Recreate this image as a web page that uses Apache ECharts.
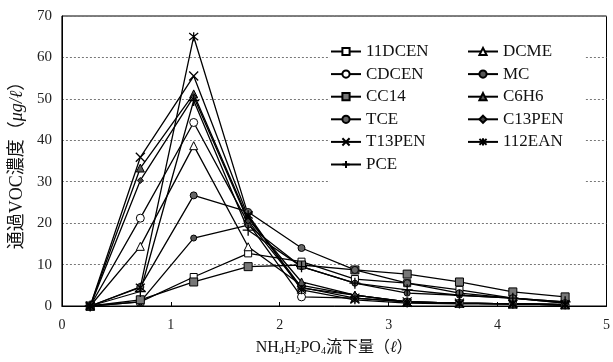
<!DOCTYPE html>
<html><head><meta charset="utf-8">
<script src="https://cdn.jsdelivr.net/npm/echarts@6/dist/echarts.min.js"></script>
<style>html,body{margin:0;padding:0;background:#fff}#c{width:613px;height:362px}</style>
</head><body><div id="c"></div>
<script>
const xVals = [0.26, 0.72, 1.21, 1.71, 2.20, 2.69, 3.17, 3.65, 4.14, 4.62];
const s11DCEN = [0, 1.0, 7.0, 12.7, 10.7, 6.5, 5.5, 3.9, 1.9, 0.7];
const sDCME   = [0, 14.4, 38.7, 14.3, 5.0, 2.6, 1.0, 0.7, 0.5, 0.3];
const sCDCEN  = [0, 21.2, 44.3, 20.0, 2.2, 1.9, 1.0, 0.7, 0.5, 0.3];
const sMC     = [0, 1.0, 16.4, 19.5, 9.5, 5.5, 3.1, 2.6, 1.9, 1.0];
const sCC14   = [0, 1.5, 5.8, 9.5, 9.9, 8.7, 7.7, 5.8, 3.4, 2.2];
const sC6H6   = [0, 33.3, 51.2, 21.0, 5.8, 2.6, 1.0, 0.7, 0.5, 0.3];
const sTCE    = [0, 4.6, 26.7, 22.7, 14.0, 8.7, 5.5, 3.1, 1.9, 0.7];
const sC13PEN = [0, 30.3, 50.5, 20.5, 4.3, 2.6, 1.0, 0.7, 0.5, 0.3];
const sT13PEN = [0, 35.9, 55.5, 21.5, 4.5, 1.9, 1.0, 0.7, 0.5, 0.3];
const s112EAN = [0, 4.5, 65.0, 22.0, 3.9, 1.5, 0.7, 0.5, 0.5, 0.3];
const sPCE    = [0, 3.5, 49.6, 18.3, 9.5, 5.5, 3.9, 2.6, 1.9, 1.0];
const yTicks = [0, 10, 20, 30, 40, 50, 60, 70];
const xTicks = [0, 1, 2, 3, 4, 5];

const CROSS = 'path://M0,0L10,10M10,0L0,10';
const PLUS = 'path://M5,0L5,10M0,5L10,5';
const STAR = 'path://M1,1L9,9M9,1L1,9M5,0L5,10';

function mk(name, vals, symbol, fill, size, strokeOnly) {
  return {
    name: name, type: 'line', data: xVals.map((x, i) => [x, vals[i]]),
    symbol: symbol, symbolSize: size, showSymbol: true,
    lineStyle: { color: '#000', width: 1.3 },
    itemStyle: strokeOnly ? { color: 'rgba(0,0,0,0)', borderColor: '#000', borderWidth: 1.3 }
                          : { color: fill, borderColor: '#000', borderWidth: 1 },
    emphasis: { disabled: true }, animation: false, z: 3
  };
}
const series = [
  mk('11DCEN', s11DCEN, 'rect', '#fff', 7),
  mk('DCME', sDCME, 'triangle', '#fff', 8),
  mk('CDCEN', sCDCEN, 'circle', '#fff', 8),
  mk('MC', sMC, 'circle', '#555', 6),
  mk('CC14', sCC14, 'rect', '#777', 8),
  mk('C6H6', sC6H6, 'triangle', '#555', 8),
  mk('TCE', sTCE, 'circle', '#666', 7),
  mk('C13PEN', sC13PEN, 'diamond', '#444', 6),
  mk('T13PEN', sT13PEN, CROSS, '#000', 9, true),
  mk('112EAN', s112EAN, STAR, '#000', 9, true),
  mk('PCE', sPCE, PLUS, '#000', 11, true)
];
const legendText = { fontFamily: 'Liberation Serif', fontSize: 17, color: '#111' };
const chart = echarts.init(document.getElementById('c'), null, { renderer: 'canvas' });
chart.setOption({
  animation: false,
  backgroundColor: '#fff',
  grid: { left: 60, right: 2, top: 16, bottom: 56, show: true, borderColor: '#000', borderWidth: 1, backgroundColor: 'transparent' },
  graphic: [{ type: 'rect', shape: { x: 330, y: 36, width: 255, height: 148 }, style: { fill: '#fff' }, z: 1, silent: true }],
  legend: [
    { data: ['11DCEN', 'CDCEN', 'CC14', 'TCE', 'T13PEN', 'PCE'], orient: 'vertical', left: 325, top: 38,
      itemWidth: 30, itemHeight: 9, itemGap: 5.6, textStyle: legendText },
    { data: ['DCME', 'MC', 'C6H6', 'C13PEN', '112EAN'], orient: 'vertical', left: 462, top: 38,
      itemWidth: 30, itemHeight: 9, itemGap: 5.6, textStyle: legendText }
  ],
  xAxis: {
    type: 'value', min: 0, max: 5, interval: 1,
    name: 'NH{s|4}H{s|2}PO{s|4}流下量（{i|ℓ}）', nameLocation: 'middle', nameGap: 34,
    nameTextStyle: { fontFamily: 'Liberation Serif, Noto Sans CJK JP', fontSize: 16, color: '#111',
      rich: { s: { fontSize: 10, verticalAlign: 'bottom', padding: [6, 0, 0, 0], fontFamily: 'Liberation Serif' },
              i: { fontStyle: 'italic', fontFamily: 'Liberation Serif', fontSize: 16 } } },
    axisLine: { lineStyle: { color: '#000', width: 1 } },
    axisTick: { inside: true, length: 4, lineStyle: { color: '#000' } },
    axisLabel: { fontFamily: 'Liberation Serif', fontSize: 14, color: '#222', margin: 12,
      formatter: v => xTicks.includes(v) ? String(v) : '' },
    splitLine: { show: false }
  },
  yAxis: {
    type: 'value', min: 0, max: 70, interval: 10,
    name: '通過VOC濃度（{i|μg/ℓ}）', nameLocation: 'middle', nameGap: 29, nameRotate: 90,
    nameTextStyle: { fontFamily: 'Liberation Serif, Noto Sans CJK JP', fontSize: 18, color: '#111',
      rich: { i: { fontStyle: 'italic', fontFamily: 'Liberation Serif', fontSize: 18 } } },
    axisLine: { show: true, lineStyle: { color: '#000', width: 1 } },
    axisTick: { show: false },
    axisLabel: { fontFamily: 'Liberation Serif', fontSize: 15, color: '#222', margin: 10,
      formatter: v => yTicks.includes(v) ? String(v) : '' },
    splitLine: { show: true, lineStyle: { color: '#777', type: [2, 2], width: 1 } }
  },
  series: series
});
</script></body></html>
